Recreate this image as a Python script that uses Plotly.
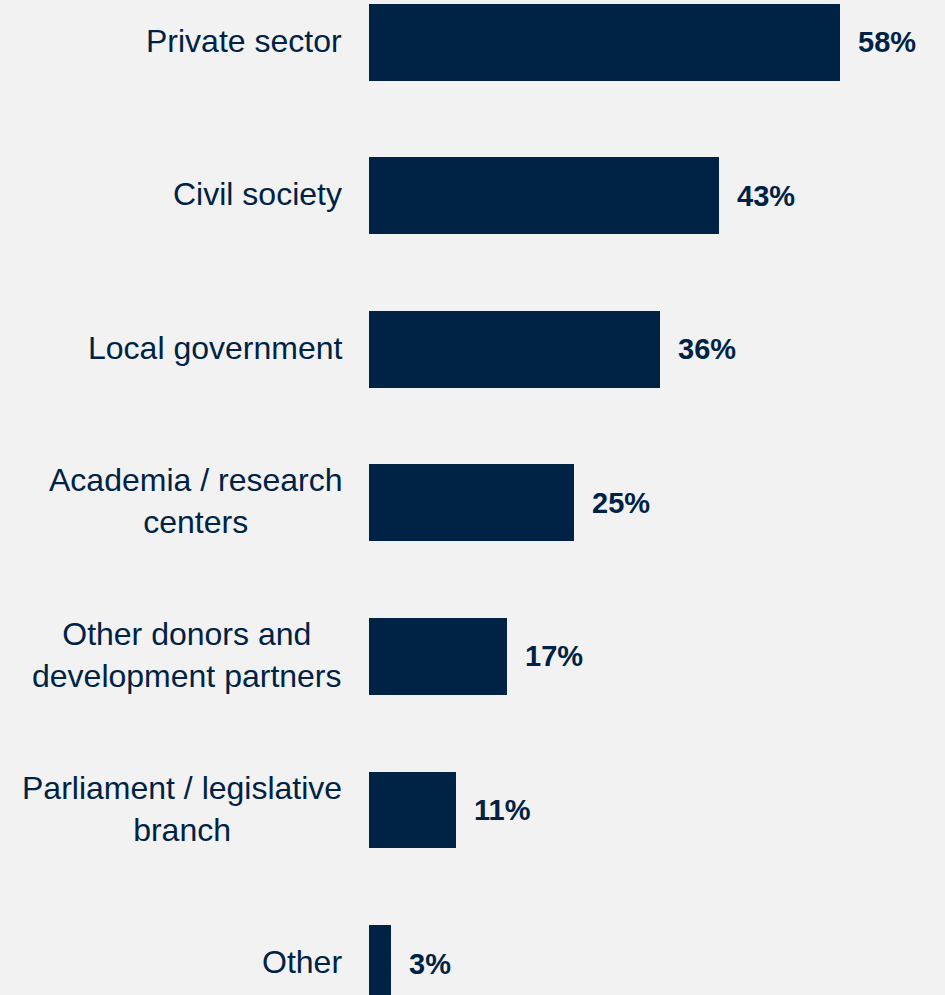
import plotly.graph_objects as go

categories = [
    "Private sector",
    "Civil society",
    "Local government",
    "Academia / research<br>centers",
    "Other donors and<br>development partners",
    "Parliament / legislative<br>branch",
    "Other",
]
values = [58, 43.1, 35.9, 25.3, 17.05, 10.7, 2.7]

NAVY = "#002244"
BG = "#F2F2F2"
FONT = "Arial, Liberation Sans, sans-serif"

W, H = 945, 995
LEFT = 369
PX_PER_UNIT = 8.116
SLOT = 153.56
FIRST_CENTER = 42.2

x_max = (W - LEFT) / PX_PER_UNIT
y_top = -FIRST_CENTER / SLOT
y_bottom = y_top + H / SLOT

fig = go.Figure(
    go.Bar(
        x=values,
        y=list(range(len(categories))),
        orientation="h",
        marker=dict(color=NAVY, line=dict(width=0)),
        width=0.5,
        hoverinfo="skip",
    )
)

annotations = []
LABEL_SIZE = 32

for i, (cat, v) in enumerate(zip(categories, values)):
    annotations.append(dict(
        xref="paper", yref="y", x=0, y=i, xanchor="right", yanchor="middle",
        xshift=-25, yshift=1.5, text=cat, showarrow=False, align="center",
        font=dict(family=FONT, size=LABEL_SIZE, color=NAVY),
    ))
    annotations.append(dict(
        xref="x", yref="y", x=v, y=i, xanchor="left", yanchor="middle",
        xshift=16, text="<b>%d%%</b>" % round(v), showarrow=False,
        font=dict(family=FONT, size=29, color=NAVY),
    ))

fig.update_layout(
    width=W, height=H,
    margin=dict(l=LEFT, r=0, t=0, b=0, pad=0),
    paper_bgcolor=BG, plot_bgcolor=BG,
    showlegend=False,
    xaxis=dict(range=[0, x_max], visible=False, fixedrange=True),
    yaxis=dict(range=[y_bottom, y_top], visible=False, fixedrange=True),
    annotations=annotations,
    bargap=0,
)

fig.write_html(
    "out.html",
    config={"displayModeBar": False},
    post_script="document.body.style.margin='0';document.body.style.background='#F2F2F2';document.body.style.overflow='hidden';",
)
